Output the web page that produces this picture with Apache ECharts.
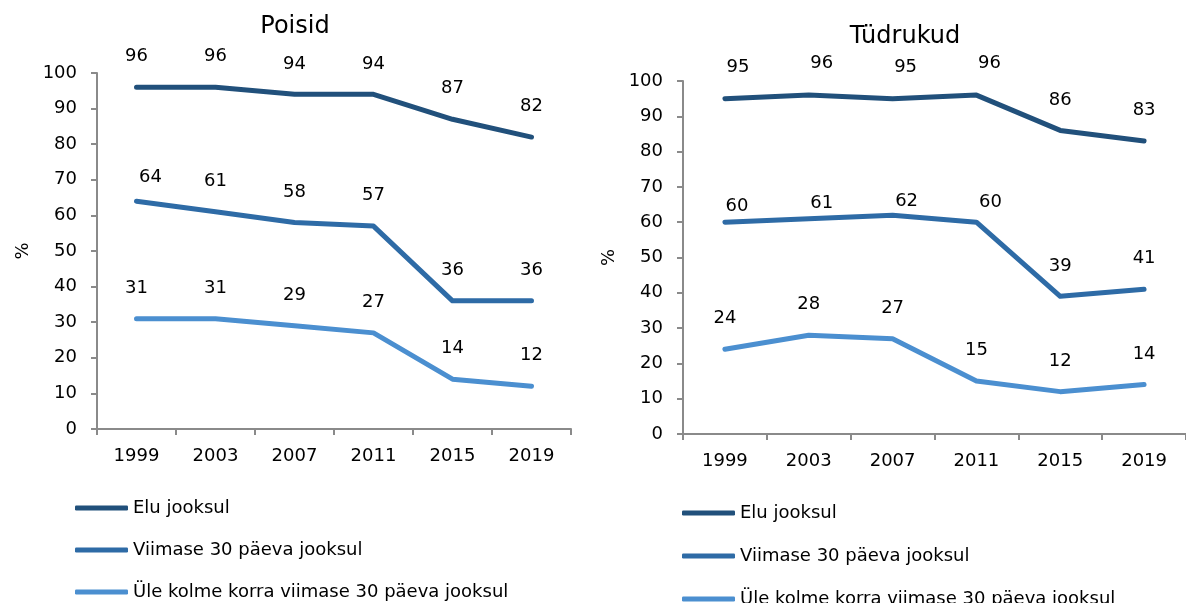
<!DOCTYPE html>
<html>
<head>
<meta charset="utf-8">
<script src="https://cdn.jsdelivr.net/npm/echarts@6/dist/echarts.min.js"></script>
<style>
  html, body { margin: 0; padding: 0; background: #fff; }
  #main { width: 1186px; height: 603px; }
</style>
</head>
<body>
<div id="main"></div>
<script>
// andmed
var years = ['1999', '2003', '2007', '2011', '2015', '2019'];
var seriesNames = ['Elu jooksul', 'Viimase 30 päeva jooksul', 'Üle kolme korra viimase 30 päeva jooksul'];
var yTicks = [0, 10, 20, 30, 40, 50, 60, 70, 80, 90, 100];

var boysLife = [96, 96, 94, 94, 87, 82];
var boys30 = [64, 61, 58, 57, 36, 36];
var boysOver3 = [31, 31, 29, 27, 14, 12];

var girlsLife = [95, 96, 95, 96, 86, 83];
var girls30 = [60, 61, 62, 60, 39, 41];
var girlsOver3 = [24, 28, 27, 15, 12, 14];

var COLORS = ['#21507b', '#2e6ba6', '#4b8fd0'];
var FONT = 'DejaVu Sans';

// sildi nihked (nagu Excelis käsitsi paigutatud)
var labelShift = {
  'boys-1': { 0: [14, 7] },
  'girls-0': { 0: [13, -1], 1: [13, -1], 2: [13, -1], 3: [13, -1] },
  'girls-1': { 0: [12, 15], 1: [13, 15], 2: [14, 17], 3: [14, 11] }
};

function makeSeries(key, idx, values, gridIdx) {
  var shifts = labelShift[key + '-' + idx] || {};
  var data = values.map(function (v, i) {
    if (shifts[i]) {
      return { value: v, label: { offset: shifts[i] } };
    }
    return v;
  });
  return {
    name: seriesNames[idx],
    type: 'line',
    xAxisIndex: gridIdx,
    yAxisIndex: gridIdx,
    data: data,
    symbol: 'circle',
    symbolSize: 1,
    showSymbol: true,
    color: COLORS[idx],
    lineStyle: { width: 5, color: COLORS[idx], cap: 'round', join: 'round' },
    itemStyle: { color: COLORS[idx] },
    label: {
      show: true,
      position: 'top',
      distance: 21,
      color: '#000',
      fontFamily: FONT,
      fontSize: 18
    },
    emphasis: { disabled: true },
    animation: false
  };
}

function makeX(gridIdx) {
  return {
    type: 'category',
    gridIndex: gridIdx,
    data: years,
    boundaryGap: true,
    axisLine: { lineStyle: { color: '#8a8a8a', width: 2 } },
    axisTick: { show: true, length: 6, lineStyle: { color: '#8a8a8a', width: 2 } },
    axisLabel: { color: '#000', fontFamily: FONT, fontSize: 18, margin: 18 }
  };
}

function makeY(gridIdx) {
  return {
    type: 'value',
    gridIndex: gridIdx,
    min: yTicks[0],
    max: yTicks[yTicks.length - 1],
    interval: yTicks[1] - yTicks[0],
    name: '%',
    nameLocation: 'middle',
    nameGap: 65,
    nameTextStyle: { color: '#000', fontFamily: FONT, fontSize: 18 },
    splitLine: { show: false },
    axisLine: { show: true, lineStyle: { color: '#8a8a8a', width: 2 } },
    axisTick: { show: true, length: 6, lineStyle: { color: '#8a8a8a', width: 2 } },
    axisLabel: { color: '#000', fontFamily: FONT, fontSize: 18, margin: 20 }
  };
}

function makeLegend(left, top, gap) {
  return {
    orient: 'vertical',
    left: left,
    top: top,
    height: 200,
    width: 500,
    padding: 0,
    itemWidth: 53,
    itemHeight: 5,
    itemGap: gap,
    icon: 'roundRect',
    data: seriesNames,
    selectedMode: false,
    textStyle: { color: '#000', fontFamily: FONT, fontSize: 18, lineHeight: 20 }
  };
}

var chart = echarts.init(document.getElementById('main'), null, { renderer: 'canvas' });

var option = {
  backgroundColor: '#fff',
  animation: false,
  title: [
    { text: 'Poisid', left: 290, top: 10, textAlign: 'center',
      textStyle: { fontFamily: FONT, fontSize: 24, fontWeight: 'normal', color: '#000' } },
    { text: 'Tüdrukud', left: 900, top: 20, textAlign: 'center',
      textStyle: { fontFamily: FONT, fontSize: 24, fontWeight: 'normal', color: '#000' } }
  ],
  grid: [
    { left: 97, top: 73, width: 474, height: 356 },
    { left: 683, top: 81, width: 516, height: 353 }
  ],
  legend: [
    makeLegend(75, 498, 22),
    makeLegend(682, 503, 23)
  ],
  xAxis: [makeX(0), makeX(1)],
  yAxis: [makeY(0), makeY(1)],
  series: [
    makeSeries('boys', 0, boysLife, 0),
    makeSeries('boys', 1, boys30, 0),
    makeSeries('boys', 2, boysOver3, 0),
    makeSeries('girls', 0, girlsLife, 1),
    makeSeries('girls', 1, girls30, 1),
    makeSeries('girls', 2, girlsOver3, 1)
  ]
};

chart.setOption(option);
</script>
</body>
</html>
